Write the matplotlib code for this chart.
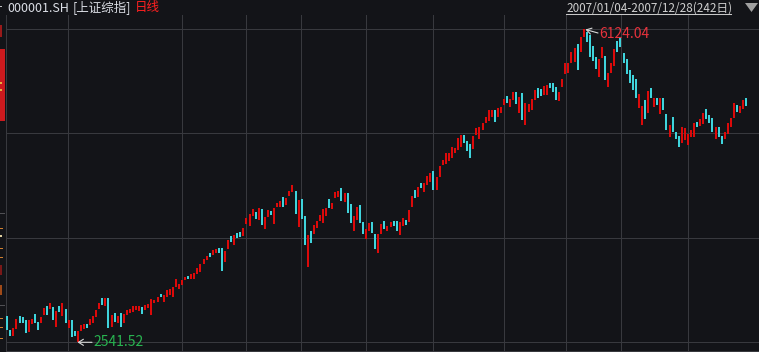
import matplotlib
matplotlib.use("Agg")
import matplotlib.pyplot as plt
from matplotlib.patches import Rectangle, Polygon
from matplotlib.lines import Line2D

plt.rcParams['font.family'] = ['Noto Sans CJK SC', 'DejaVu Sans']

# ---------------- data ----------------
code = '000001.SH'
name = '[上证综指]'
period = '日线'
range_text = '2007/01/04-2007/12/28(242日)'
hi_value = 6124.04
lo_value = 2541.52
hi_index = 188
lo_index = 23

high = [
    2839, 2679, 2702, 2805, 2839, 2828, 2793, 2793, 2805, 2862,
    2770, 2828, 2931, 2954, 2988, 2942, 2896, 2954, 2988, 2919,
    2793, 2793, 2668, 2668, 2736, 2748, 2748, 2805, 2839, 2908,
    2988, 3045, 3045, 3045, 2851, 2873, 2839, 2873, 2862, 2908,
    2919, 2954, 2954, 2954, 2942, 2965, 2977, 3034, 3022, 3057,
    3091, 3080, 3137, 3148, 3171, 3263, 3205, 3251, 3286, 3297,
    3320, 3331, 3389, 3434, 3492, 3526, 3560, 3595, 3606, 3617,
    3617, 3583, 3709, 3755, 3766, 3789, 3801, 3846, 3957, 4003,
    4060, 4026, 4072, 4064, 3976, 4052, 4041, 4072, 4129, 4159,
    4198, 4186, 4273, 4336, 4270, 4167, 4175, 3984, 3766, 3815,
    3881, 3926, 3995, 4060, 4079, 4175, 4136, 4255, 4270, 4308,
    4250, 4247, 4118, 3984, 4087, 4110, 3915, 3832, 3900, 3915,
    3778, 3778, 3892, 3926, 3869, 3918, 3926, 3926, 3918, 3957,
    3938, 4052, 4213, 4281, 4312, 4358, 4358, 4445, 4472, 4499,
    4427, 4556, 4625, 4701, 4708, 4777, 4759, 4873, 4911, 4911,
    4846, 4808, 4899, 4988, 4999, 5045, 5120, 5197, 5197, 5197,
    5216, 5235, 5323, 5361, 5323, 5406, 5406, 5349, 5395, 5281,
    5266, 5323, 5426, 5445, 5437, 5475, 5483, 5509, 5509, 5464,
    5406, 5548, 5732, 5732, 5864, 5903, 5952, 6036, 6124.04, 6093,
    6055, 5930, 5807, 5777, 5915, 5815, 5624, 5738, 5892, 5990,
    6018, 5846, 5777, 5655, 5598, 5548, 5380, 5243, 5311, 5418,
    5445, 5331, 5334, 5331, 5331, 5151, 5025, 5113, 4949, 4899,
    4999, 4988, 4922, 4968, 5052, 5063, 5091, 5166, 5205, 5140,
    5102, 4999, 4999, 4899, 4949, 5045, 5102, 5274, 5254, 5243,
    5311, 5331,
]

low = [
    2679, 2610, 2610, 2690, 2759, 2759, 2645, 2656, 2748, 2759,
    2679, 2759, 2851, 2851, 2919, 2793, 2713, 2885, 2839, 2759,
    2702, 2599, 2610, 2541.52, 2668, 2690, 2702, 2736, 2759, 2828,
    2919, 2965, 2954, 2702, 2713, 2770, 2759, 2713, 2759, 2851,
    2873, 2885, 2908, 2896, 2862, 2908, 2931, 2851, 2988, 2999,
    3057, 2999, 3057, 3080, 3057, 3171, 3148, 3194, 3251, 3263,
    3263, 3263, 3320, 3343, 3434, 3480, 3514, 3537, 3560, 3560,
    3354, 3457, 3606, 3686, 3652, 3732, 3743, 3755, 3892, 3869,
    3984, 3946, 3938, 3881, 3832, 3976, 3995, 3892, 4090, 4083,
    4083, 4110, 4213, 4258, 4007, 3854, 3946, 3652, 3403, 3678,
    3778, 3846, 3930, 3907, 3984, 4072, 4060, 4193, 4198, 4155,
    4147, 4022, 3907, 3812, 3938, 3900, 3778, 3717, 3815, 3786,
    3606, 3564, 3778, 3835, 3812, 3861, 3869, 3812, 3766, 3869,
    3881, 3915, 4083, 4193, 4198, 4304, 4258, 4339, 4369, 4281,
    4281, 4434, 4567, 4575, 4613, 4644, 4701, 4739, 4777, 4816,
    4728, 4644, 4747, 4911, 4862, 4968, 5045, 5075, 5113, 5063,
    5113, 5166, 5254, 5274, 5235, 5311, 5266, 5166, 5083, 5025,
    5178, 5197, 5311, 5338, 5357, 5369, 5369, 5445, 5406, 5311,
    5303, 5464, 5609, 5624, 5732, 5750, 5655, 5864, 6036, 5979,
    5807, 5761, 5663, 5578, 5789, 5540, 5464, 5617, 5701, 5864,
    5915, 5738, 5609, 5509, 5426, 5331, 5216, 5025, 5091, 5166,
    5331, 5228, 5254, 5151, 5197, 4968, 4891, 4949, 4862, 4777,
    4816, 4854, 4796, 4884, 4891, 4999, 5014, 5037, 5091, 5052,
    4949, 4862, 4891, 4808, 4862, 4922, 4999, 5102, 5178, 5159,
    5205, 5243,
]

# 1 = closed up (red), 0 = closed down (cyan)
up = [
    0, 0, 1, 1, 0, 0, 0, 1, 1, 0,
    0, 1, 1, 0, 1, 0, 1, 0, 1, 0,
    1, 0, 0, 1, 1, 1, 0, 1, 1, 1,
    1, 0, 1, 0, 1, 0, 1, 0, 1, 1,
    1, 1, 1, 1, 0, 1, 1, 1, 1, 1,
    0, 1, 1, 1, 1, 1, 1, 1, 1, 0,
    1, 1, 1, 1, 1, 1, 0, 1, 1, 0,
    0, 1, 1, 0, 1, 0, 0, 1, 1, 1,
    1, 0, 1, 0, 1, 1, 0, 1, 1, 1,
    0, 1, 1, 1, 0, 1, 0, 0, 1, 0,
    1, 1, 1, 1, 1, 0, 1, 1, 1, 0,
    1, 0, 0, 1, 1, 0, 0, 1, 1, 0,
    0, 1, 1, 0, 1, 1, 0, 0, 1, 1,
    0, 1, 1, 0, 1, 0, 1, 1, 1, 0,
    1, 1, 1, 1, 1, 1, 1, 1, 1, 0,
    0, 0, 1, 1, 1, 1, 1, 1, 1, 0,
    1, 1, 1, 0, 1, 1, 0, 1, 0, 1,
    1, 1, 1, 0, 0, 1, 1, 0, 0, 0,
    1, 1, 1, 1, 1, 1, 0, 1, 1, 0,
    0, 0, 0, 1, 1, 0, 1, 1, 1, 0,
    0, 0, 0, 0, 0, 0, 1, 1, 0, 1,
    0, 1, 0, 1, 0, 0, 1, 0, 0, 0,
    1, 1, 1, 1, 1, 0, 1, 1, 0, 0,
    0, 1, 0, 0, 1, 1, 1, 1, 0, 1,
    1, 0,
]

# ---------------- style / layout ----------------
W, H = 759, 352
BG = '#131418'
GRID = '#38393e'
RED = '#dc0a0a'
CYAN = '#3fd4dc'

fig = plt.figure(figsize=(W / 100, H / 100), dpi=100, facecolor=BG)

ax_left, ax_right, ax_top, ax_bottom = 6, 759, 15, 351
ax = fig.add_axes([ax_left / W, 1 - ax_bottom / H,
                   (ax_right - ax_left) / W, (ax_bottom - ax_top) / H])
ax.set_facecolor(BG)

y_hi_px, y_lo_px = 29, 342
scale = (hi_value - lo_value) / (y_lo_px - y_hi_px)
ax.set_ylim(lo_value - (ax_bottom - y_lo_px) * scale,
            hi_value + (y_hi_px - ax_top) * scale)
x0_px, step_px = 7.3, 3.066
ax.set_xlim(-(x0_px - ax_left) / step_px, (ax_right - x0_px) / step_px)


def px2x(px):
    return (px - x0_px) / step_px


def px2y(py):
    return hi_value - (py - y_hi_px) * scale


# grid
for k in range(4):
    ax.axhline(lo_value + k * (hi_value - lo_value) / 3, color=GRID,
               lw=0.75, zorder=1)
for gx in [68, 182, 246, 301.3, 366.3, 433, 504.3, 565.7, 621.3, 688.3]:
    ax.axvline(px2x(gx), color=GRID, lw=0.75, zorder=1)

for s in ['top', 'right']:
    ax.spines[s].set_visible(False)
for s in ['left', 'bottom']:
    ax.spines[s].set_color(GRID)
    ax.spines[s].set_linewidth(0.75)
ax.set_xticks([])
ax.set_yticks([])

# bars
n = len(high)
colors = [RED if u else CYAN for u in up]
ax.vlines(range(n), low, high, colors=colors, lw=1.1,
          antialiased=False, zorder=3)

# high / low markers
arrow_kw = dict(arrowstyle='->,head_length=0.35,head_width=0.22',
                color='#d8d8d8', lw=0.8, shrinkA=0, shrinkB=0)
ax.annotate('', xy=(px2x(585.5), px2y(29.5)),
            xytext=(px2x(598), px2y(33)), arrowprops=arrow_kw, zorder=4)
ax.text(px2x(599), px2y(34), f'{hi_value:.2f}', color='#e8323c',
        fontsize=10, ha='left', va='center', zorder=4)
ax.annotate('', xy=(px2x(77.5), px2y(342.3)),
            xytext=(px2x(92), px2y(342.3)), arrowprops=arrow_kw, zorder=4)
ax.text(px2x(93), px2y(342.5), f'{lo_value:.2f}', color='#28b450',
        fontsize=10, ha='left', va='center', zorder=4)

# header texts
ty = 1 - 8 / H
fig.text(7 / W, ty, code, color='#dcdfe6', fontsize=9, ha='left', va='center')
fig.text(72.7 / W, ty, name, color='#dcdfe6', fontsize=9, ha='left', va='center')
fig.text(135 / W, ty, period, color='#ff2020', fontsize=9, ha='left', va='center')
fig.text(566 / W, ty, range_text, color='#d0d0d0', fontsize=8.4,
         ha='left', va='center')
fig.add_artist(Line2D([566 / W, 731 / W], [1 - 13.5 / H] * 2,
                      transform=fig.transFigure, color='#c8c8c8', lw=0.75))
fig.add_artist(Polygon([(745 / W, 1 - 3 / H), (758 / W, 1 - 3 / H),
                        (751.5 / W, 1 - 12 / H)], closed=True,
                       transform=fig.transFigure, color='#a0a0a0', lw=0))


# left strip remnants (cut-off axis labels)
def px_rect(x, y, w, h, c):
    fig.add_artist(Rectangle((x / W, 1 - (y + h) / H), w / W, h / H,
                             transform=fig.transFigure, color=c, lw=0))


px_rect(0, 5.5, 2, 1, '#c0c0c0')
px_rect(0, 25, 2, 12, '#9a1a1a')
px_rect(0, 49, 5, 72, '#cc1a1e')
px_rect(0, 82, 2, 2, '#e8b040')
px_rect(0, 89, 2, 2, '#e8b040')
px_rect(0, 213, 5, 1, '#505054')
px_rect(0, 305, 5, 1, '#505054')
for yy in [228, 248, 257, 318, 327, 338]:
    px_rect(0, yy, 3, 1, '#d08030')
px_rect(0, 235, 2, 2, '#e0d0a0')
px_rect(0, 265, 2, 10, '#7a1818')
px_rect(0, 285, 2, 10, '#a04a18')

fig.savefig('out.png', dpi=100, facecolor=BG)
